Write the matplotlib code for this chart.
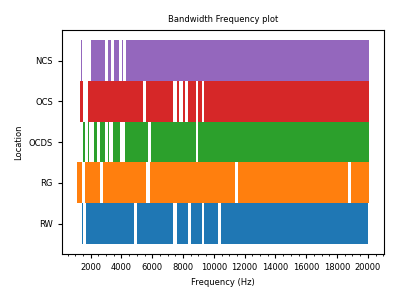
import matplotlib
matplotlib.use('Agg')
import matplotlib.pyplot as plt
from matplotlib.ticker import MultipleLocator

# frequency bands (Hz) covered per location: start, end
locations = ['RW', 'RG', 'OCDS', 'OCS', 'NCS']
colors = ['#1f77b4', '#ff7f0e', '#2ca02c', '#d62728', '#9467bd']

rw_start = [1415, 1675, 4980, 7580, 8485, 9390, 10495]
rw_end = [1480, 4790, 7380, 8290, 9200, 10300, 20040]

rg_start = [1090, 1610, 2780, 5830, 11600, 18930]
rg_end = [1415, 2585, 5570, 11400, 18730, 20100]

ocds_start = [1480, 1805, 2195, 2585, 3100, 3425, 4200, 5890, 9000]
ocds_end = [1610, 1870, 2390, 2910, 3170, 3880, 5700, 8810, 20100]

ocs_start = [1290, 1805, 5565, 7580, 7970, 8290, 9000, 9390]
ocs_end = [1480, 5370, 7320, 7770, 8100, 8810, 9200, 20100]

ncs_start = [1400, 2000, 3100, 3490, 4010, 4270]
ncs_end = [1470, 2908, 3300, 3815, 4075, 20100]

starts = [rw_start, rg_start, ocds_start, ocs_start, ncs_start]
ends = [rw_end, rg_end, ocds_end, ocs_end, ncs_end]

fig, ax = plt.subplots(figsize=(4, 3), dpi=100)
for i in range(len(locations)):
    widths = [e - s for s, e in zip(starts[i], ends[i])]
    ax.barh([i] * len(widths), widths, left=starts[i], height=1,
            color=colors[i], linewidth=0)

ax.use_sticky_edges = False
ax.margins(x=0.05, y=0.05)
ax.set_yticks(range(len(locations)))
ax.set_yticklabels(locations)
ax.xaxis.set_major_locator(MultipleLocator(2000))
ax.xaxis.set_minor_locator(MultipleLocator(500))
ax.tick_params(labelsize=6)
ax.tick_params(which='major', length=3)
ax.tick_params(which='minor', length=1.5)
ax.set_xlabel('Frequency (Hz)', fontsize=6)
ax.set_ylabel('Location', fontsize=6)
ax.set_title('Bandwidth Frequency plot', fontsize=6)
fig.subplots_adjust(left=0.155, right=0.96, bottom=0.153, top=0.9)
fig.savefig('out.png')
